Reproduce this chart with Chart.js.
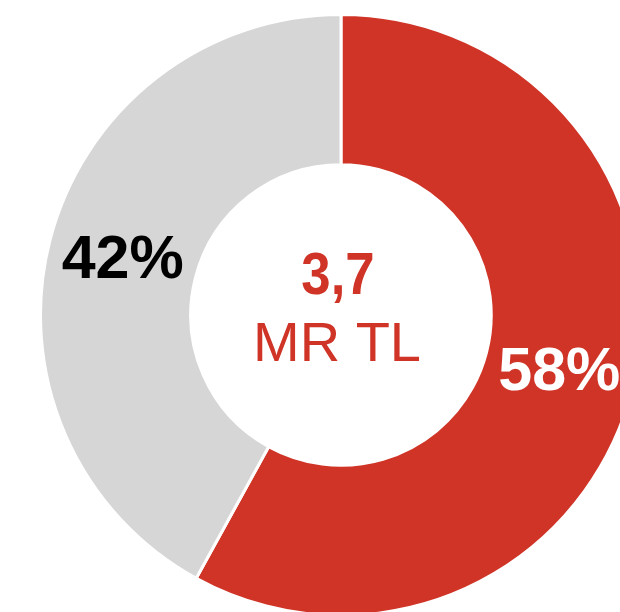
<!DOCTYPE html>
<html>
<head>
<meta charset="utf-8">
<script src="https://cdn.jsdelivr.net/npm/chart.js@4"></script>
<style>
  html, body { margin: 0; padding: 0; background: #fff; overflow: hidden; width: 620px; height: 612px; }
  #pie { position: absolute; left: 39px; top: 13px; }
</style>
</head>
<body>
<canvas id="pie" width="604" height="604"></canvas>
<script>
// Share of total (red first, going clockwise from the top)
const labels = ["Kırmızı", "Gri"];
const values = [58, 42];
const colors = ["#CF3427", "#D6D6D6"];
const labelColors = ["#FFFFFF", "#000000"];
const centerLines = ["3,7", "MR TL"];

const FONT = "'Liberation Sans', Arial, sans-serif";

// percent labels on the ring + total in the hole
const textPlugin = {
  id: "textPlugin",
  afterDatasetsDraw(chart) {
    const ctx = chart.ctx;
    const arcs = chart.getDatasetMeta(0).data;
    ctx.save();
    ctx.textAlign = "center";
    ctx.textBaseline = "middle";
    ctx.font = "bold 61px " + FONT;
    arcs.forEach((arc, i) => {
      const p = arc.tooltipPosition();
      ctx.fillStyle = labelColors[i];
      ctx.fillText(values[i] + "%", p.x, p.y + 2);
    });

    const cx = arcs[0].x, cy = arcs[0].y;
    ctx.fillStyle = colors[0];
    // the total is a bit narrower than plain Arial bold
    ctx.save();
    ctx.translate(cx - 3, cy - 38);
    ctx.scale(0.88, 1);
    ctx.font = "bold 60px " + FONT;
    ctx.fillText(centerLines[0], 0, 0);
    ctx.restore();
    ctx.font = "56px " + FONT;
    ctx.fillText(centerLines[1], cx - 4, cy + 31);
    ctx.restore();
  }
};

new Chart(document.getElementById("pie").getContext("2d"), {
  type: "doughnut",
  data: {
    labels: labels,
    datasets: [{
      data: values,
      backgroundColor: colors,
      borderColor: "#ffffff",
      borderWidth: 3
    }]
  },
  options: {
    responsive: false,
    animation: false,
    cutout: "50%",
    plugins: {
      legend: { display: false },
      tooltip: { enabled: false }
    }
  },
  plugins: [textPlugin]
});
</script>
</body>
</html>
